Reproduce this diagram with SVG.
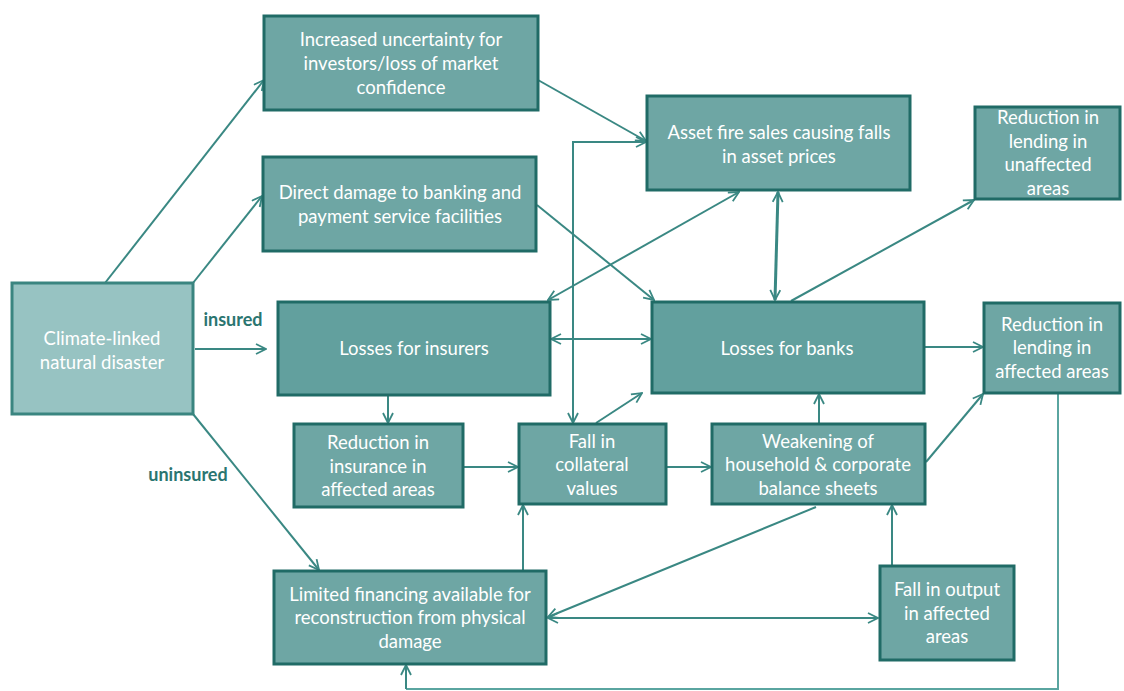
<svg xmlns="http://www.w3.org/2000/svg" width="1124" height="691" viewBox="0 0 1124 691">
<defs>
<marker id="ah" viewBox="0 0 12 12" refX="11" refY="6" markerWidth="12" markerHeight="12" markerUnits="userSpaceOnUse" orient="auto-start-reverse">
<path d="M1,1 L11,6 L1,11" fill="none" stroke="#3a8883" stroke-width="1.8"/>
</marker>
</defs>
<style>
.box{fill:#6ea6a4;stroke:#206b66;stroke-width:3}
.dark{fill:#62a09e}
.clim{fill:#97c3c2;stroke:#3a8580;stroke-width:3}
.t{font-family:Lato,"Liberation Sans",sans-serif;font-size:18.5px;fill:#ffffff;text-anchor:middle}
.lbl{font-family:Lato,"Liberation Sans",sans-serif;font-size:18px;font-weight:bold;fill:#2a7570;text-anchor:middle}
.c{fill:none;stroke:#3a8883;stroke-width:2}
.e{marker-end:url(#ah)}
.b{marker-start:url(#ah);marker-end:url(#ah)}
</style>
<rect width="1124" height="691" fill="#ffffff"/>
<g id="connectors">
<line class="c e" x1="105" y1="283" x2="264" y2="80"/>
<line class="c e" x1="193" y1="283" x2="262" y2="196"/>
<line class="c e" x1="195" y1="349" x2="266" y2="349"/>
<line class="c e" x1="193" y1="414" x2="319" y2="570"/>
<line class="c e" x1="538" y1="80" x2="646" y2="141"/>
<line class="c e" x1="537" y1="205" x2="654" y2="300"/>
<line class="c b" x1="739" y1="192" x2="548" y2="300"/>
<line class="c b" x1="778" y1="192" x2="775" y2="300" style="stroke-width:3"/>
<line class="c e" x1="791" y1="301" x2="974" y2="200"/>
<line class="c b" x1="551" y1="339" x2="651" y2="339"/>
<line class="c e" x1="925" y1="347" x2="983" y2="347"/>
<line class="c e" x1="388" y1="396" x2="388" y2="423"/>
<line class="c e" x1="464" y1="467" x2="518" y2="467"/>
<line class="c e" x1="667" y1="467" x2="711" y2="467"/>
<line class="c e" x1="596" y1="423" x2="642" y2="393"/>
<polyline class="c b" points="646,142 573,142 573,423"/>
<line class="c e" x1="819" y1="423" x2="819" y2="394"/>
<line class="c e" x1="926" y1="462" x2="983" y2="394"/>
<line class="c e" x1="523" y1="570" x2="523" y2="505"/>
<line class="c e" x1="816" y1="507" x2="548" y2="617"/>
<line class="c b" x1="548" y1="618" x2="878" y2="618"/>
<line class="c e" x1="892" y1="566" x2="892" y2="505"/>
<polyline class="c" points="1058,394 1058,689 406,689" style="stroke:#5aa5a0"/>
<line class="c e" x1="406" y1="689" x2="406" y2="665"/>
</g>
<g id="n-climate"><rect class="clim" x="12" y="283" width="181" height="131"/><text class="t"><tspan x="102" y="345">Climate-linked</tspan><tspan x="102" y="369">natural disaster</tspan></text></g>
<g id="n-uncertainty"><rect class="box" x="264" y="16" width="274" height="94"/><text class="t"><tspan x="401" y="46">Increased uncertainty for</tspan><tspan x="401" y="70">investors/loss of market</tspan><tspan x="401" y="94">confidence</tspan></text></g>
<g id="n-damage"><rect class="box" x="263" y="157" width="273" height="94"/><text class="t"><tspan x="400" y="199">Direct damage to banking and</tspan><tspan x="400" y="223">payment service facilities</tspan></text></g>
<g id="n-firesales"><rect class="box" x="647" y="96" width="263" height="94"/><text class="t"><tspan x="779" y="139">Asset fire sales causing falls</tspan><tspan x="779" y="163">in asset prices</tspan></text></g>
<g id="n-unaffected"><rect class="box" x="975" y="107" width="145" height="92"/><text class="t"><tspan x="1048" y="124">Reduction in</tspan><tspan x="1048" y="148">lending in</tspan><tspan x="1048" y="171">unaffected</tspan><tspan x="1048" y="195">areas</tspan></text></g>
<g id="n-insurers"><rect class="box dark" x="278" y="302" width="272" height="93"/><text class="t"><tspan x="414" y="355">Losses  for insurers</tspan></text></g>
<g id="n-banks"><rect class="box dark" x="652" y="302" width="272" height="91"/><text class="t"><tspan x="787" y="355">Losses  for banks</tspan></text></g>
<g id="n-affected"><rect class="box" x="984" y="303" width="136" height="90"/><text class="t"><tspan x="1052" y="331">Reduction in</tspan><tspan x="1052" y="354">lending in</tspan><tspan x="1052" y="378">affected areas</tspan></text></g>
<g id="n-insurance"><rect class="box" x="294" y="424" width="169" height="83"/><text class="t"><tspan x="378" y="449">Reduction in</tspan><tspan x="378" y="473">insurance in</tspan><tspan x="378" y="496">affected areas</tspan></text></g>
<g id="n-collateral"><rect class="box" x="519" y="424" width="147" height="80"/><text class="t"><tspan x="592" y="448">Fall in</tspan><tspan x="592" y="471">collateral</tspan><tspan x="592" y="495">values</tspan></text></g>
<g id="n-weakening"><rect class="box" x="712" y="424" width="213" height="80"/><text class="t"><tspan x="818" y="448">Weakening of</tspan><tspan x="818" y="471">household &amp; corporate</tspan><tspan x="818" y="495">balance sheets</tspan></text></g>
<g id="n-limited"><rect class="box" x="274" y="571" width="272" height="93"/><text class="t"><tspan x="410" y="601">Limited financing available for</tspan><tspan x="410" y="624">reconstruction from physical</tspan><tspan x="410" y="648">damage</tspan></text></g>
<g id="n-output"><rect class="box" x="880" y="566" width="134" height="94"/><text class="t"><tspan x="947" y="596">Fall in output</tspan><tspan x="947" y="620">in affected</tspan><tspan x="947" y="643">areas</tspan></text></g>
<g id="labels"><text class="lbl" x="233" y="326">insured</text><text class="lbl" x="188" y="481">uninsured</text></g>
</svg>
